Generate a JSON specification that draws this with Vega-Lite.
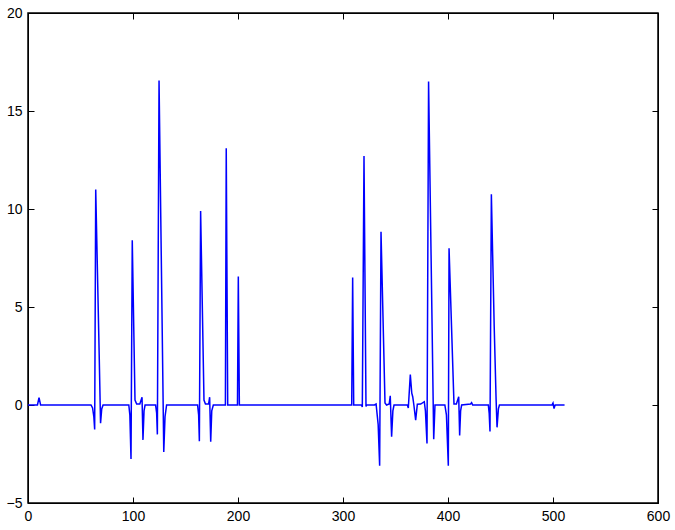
{
  "$schema": "https://vega.github.io/schema/vega-lite/v6.json",
  "width": 630,
  "height": 490,
  "autosize": "none",
  "padding": {"left": 28, "top": 13, "right": 17, "bottom": 27},
  "background": "white",
  "config": {
    "view": {"stroke": "black", "strokeWidth": 1.5},
    "axis": {
      "grid": false,
      "domainColor": "black",
      "tickColor": "black",
      "labelColor": "black",
      "labelFont": "Liberation Sans",
      "labelFontSize": 14,
      "labelFlush": false,
      "labelOverlap": false,
      "tickSize": -6,
      "title": null
    }
  },
  "data": {
    "values": [
      {"x": 0, "y": 0}, {"x": 9, "y": 0}, {"x": 10.5, "y": 0.38}, {"x": 12, "y": 0},
      {"x": 60, "y": 0}, {"x": 61.5, "y": -0.15}, {"x": 62.7, "y": -0.6}, {"x": 63.5, "y": -1.25},
      {"x": 64.5, "y": 11.0}, {"x": 67.9, "y": 2.3}, {"x": 69.1, "y": -0.93}, {"x": 70.2, "y": -0.2}, {"x": 71.5, "y": 0},
      {"x": 96, "y": 0}, {"x": 97, "y": -0.5}, {"x": 98.1, "y": -2.75}, {"x": 99.3, "y": 8.4},
      {"x": 101.9, "y": 0.25}, {"x": 103.5, "y": 0.05}, {"x": 106.5, "y": 0.05}, {"x": 108.6, "y": 0.4},
      {"x": 109.5, "y": -1.78}, {"x": 110.5, "y": -0.3}, {"x": 111.5, "y": 0},
      {"x": 121.5, "y": 0}, {"x": 122.5, "y": -0.4}, {"x": 123.2, "y": -1.5}, {"x": 124.8, "y": 16.55},
      {"x": 129.3, "y": -2.4}, {"x": 130.5, "y": -0.6}, {"x": 132, "y": 0},
      {"x": 161.5, "y": 0}, {"x": 162.5, "y": -0.5}, {"x": 163.2, "y": -1.85}, {"x": 164.4, "y": 9.9},
      {"x": 167.6, "y": 0.25}, {"x": 169, "y": 0.05}, {"x": 172, "y": 0.05}, {"x": 173, "y": 0.4},
      {"x": 174, "y": -1.88}, {"x": 175, "y": -0.3}, {"x": 176.5, "y": 0},
      {"x": 188, "y": 0}, {"x": 188.8, "y": 13.1}, {"x": 190.2, "y": 0},
      {"x": 199.5, "y": 0}, {"x": 200.3, "y": 6.55}, {"x": 201.3, "y": 0},
      {"x": 308.3, "y": 0}, {"x": 309.2, "y": 6.5}, {"x": 310.2, "y": 0},
      {"x": 317.5, "y": 0}, {"x": 318.4, "y": -0.1}, {"x": 320, "y": 12.7}, {"x": 321.9, "y": -0.08},
      {"x": 322.5, "y": 0}, {"x": 330, "y": 0}, {"x": 331.5, "y": 0.05}, {"x": 333.5, "y": -1.0},
      {"x": 334.9, "y": -3.1}, {"x": 336.2, "y": 8.84}, {"x": 340, "y": 0.1}, {"x": 341.5, "y": 0},
      {"x": 344, "y": 0.05}, {"x": 345, "y": 0.47}, {"x": 346.3, "y": -1.62}, {"x": 347.5, "y": -0.3}, {"x": 348.6, "y": 0},
      {"x": 361.3, "y": 0}, {"x": 362.2, "y": -0.15}, {"x": 364.1, "y": 1.55}, {"x": 365.5, "y": 0.6},
      {"x": 366.4, "y": 0.42}, {"x": 367.5, "y": 0}, {"x": 369.2, "y": -0.77}, {"x": 370.8, "y": 0.04},
      {"x": 374, "y": 0.05}, {"x": 377.4, "y": 0.17}, {"x": 378.5, "y": -0.3}, {"x": 380, "y": -1.96},
      {"x": 381.5, "y": 16.5}, {"x": 386.4, "y": -1.75}, {"x": 387.6, "y": 0},
      {"x": 397, "y": 0}, {"x": 398.5, "y": -0.5}, {"x": 400.3, "y": -3.1}, {"x": 401, "y": 8.0},
      {"x": 405.7, "y": 0.05}, {"x": 408, "y": 0.05}, {"x": 410.2, "y": 0.42}, {"x": 411.1, "y": -1.56},
      {"x": 412, "y": -0.3}, {"x": 413, "y": 0}, {"x": 421.5, "y": 0.05}, {"x": 422.5, "y": 0.12}, {"x": 423.5, "y": 0},
      {"x": 438.4, "y": 0}, {"x": 439.2, "y": -0.4}, {"x": 440, "y": -1.35}, {"x": 441.3, "y": 10.75},
      {"x": 444, "y": 4.0}, {"x": 445.8, "y": 0.3}, {"x": 446.7, "y": -1.14}, {"x": 448, "y": -0.2}, {"x": 449, "y": 0},
      {"x": 499, "y": 0}, {"x": 500, "y": 0.1}, {"x": 501, "y": -0.18}, {"x": 502, "y": 0}, {"x": 511, "y": 0}
    ]
  },
  "layer": [
    {
      "mark": {"type": "line", "color": "#0000ff", "strokeWidth": 1.5, "clip": true},
      "encoding": {
        "x": {"field": "x", "type": "quantitative", "scale": {"domain": [0, 600], "nice": false, "zero": false},
              "axis": {"orient": "bottom", "values": [0, 100, 200, 300, 400, 500, 600], "labelPadding": 12}},
        "y": {"field": "y", "type": "quantitative", "scale": {"domain": [-5, 20], "nice": false, "zero": false},
              "axis": {"orient": "left", "values": [-5, 0, 5, 10, 15, 20], "labelPadding": 12}}
      }
    },
    {
      "mark": {"type": "line", "opacity": 0},
      "encoding": {
        "x": {"field": "x", "type": "quantitative",
              "axis": {"orient": "top", "values": [0, 100, 200, 300, 400, 500, 600], "labels": false}},
        "y": {"field": "y", "type": "quantitative",
              "axis": {"orient": "right", "values": [-5, 0, 5, 10, 15, 20], "labels": false}}
      }
    }
  ],
  "resolve": {"axis": {"x": "independent", "y": "independent"}}
}
